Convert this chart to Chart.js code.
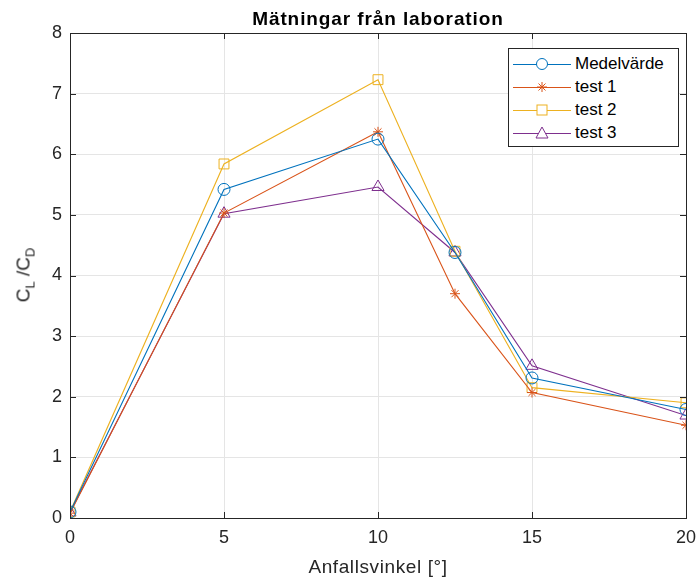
<!DOCTYPE html>
<html>
<head>
<meta charset="utf-8">
<script src="https://cdn.jsdelivr.net/npm/chart.js@4/dist/chart.umd.min.js"></script>
<style>
  body { margin:0; background:#fff; }
  #wrap { position:relative; width:697px; height:583px; font-family:"Liberation Sans", Arial, sans-serif; color:#262626; }
  #c { position:absolute; left:0; top:0; }
  #title { position:absolute; left:70px; width:616px; top:8px; line-height:normal; text-align:center; font-weight:bold; font-size:19px; letter-spacing:0.9px; color:#000; white-space:nowrap; }
  #xtitle { position:absolute; left:70px; width:616px; top:556px; line-height:normal; text-align:center; font-size:19px; letter-spacing:0.6px; color:#262626; white-space:nowrap; }
  #ytitle { position:absolute; left:25px; top:275px; transform:translate(-50%,-50%) rotate(-90deg); font-size:19px; white-space:nowrap; color:#262626; }
  #ytitle sub { font-size:13px; vertical-align:-5px; }
  #legend { position:absolute; left:508px; top:48px; width:171px; height:99px; border:1px solid #262626; background:#fff; box-sizing:border-box; }
  .row { position:absolute; left:4px; height:20px; display:flex; align-items:center; font-size:17px; color:#000; }
  .row svg { margin-right:4px; }
</style>
</head>
<body>
<div id="wrap">
  <canvas id="c" width="697" height="583"></canvas>
  <div id="title">Mätningar från laboration</div>
  <div id="xtitle">Anfallsvinkel [°]</div>
  <div id="ytitle">C<sub>L</sub> /C<sub>D</sub></div>
  <div id="legend"></div>
</div>
<script>
const angles = [0, 5, 10, 12.5, 15, 20];
const medelvarde = [0.10, 5.42, 6.25, 4.38, 2.31, 1.79];
const test1 = [0.08, 5.03, 6.37, 3.70, 2.07, 1.53];
const test2 = [0.10, 5.84, 7.23, 4.40, 2.15, 1.90];
const test3 = [0.09, 5.02, 5.46, 4.38, 2.51, 1.69];
const xTicks = [0, 5, 10, 15, 20];
const yTicks = [0, 1, 2, 3, 4, 5, 6, 7, 8];
const seriesNames = ['Medelvärde', 'test 1', 'test 2', 'test 3'];
const seriesColors = ['#0072BD', '#D95319', '#EDB120', '#7E2F8E'];
const seriesMarkers = ['circle', 'star', 'rect', 'triangle'];
const markerRadius = [6, 5, 7, 7];
const seriesData = [medelvarde, test1, test2, test3];

const datasets = seriesData.map((vals, i) => ({
  label: seriesNames[i],
  data: angles.map((a, j) => ({x: a, y: vals[j]})),
  borderColor: seriesColors[i],
  backgroundColor: 'rgba(0,0,0,0)',
  borderWidth: 1.1,
  pointStyle: seriesMarkers[i],
  pointRadius: markerRadius[i],
  pointBorderWidth: 1,
  pointBorderColor: seriesColors[i],
  pointBackgroundColor: 'rgba(0,0,0,0)',
  tension: 0,
  fill: false
}));

const boxPlugin = {
  id: 'box',
  afterDraw(chart) {
    const {ctx, chartArea: a, scales} = chart;
    ctx.save();
    ctx.strokeStyle = '#262626';
    ctx.lineWidth = 1;
    ctx.strokeRect(Math.round(a.left) + 0.5, Math.round(a.top) + 0.5, Math.round(a.right - a.left), Math.round(a.bottom - a.top));
    ctx.beginPath();
    const tl = 6;
    xTicks.forEach(v => {
      const px = Math.round(scales.x.getPixelForValue(v)) + 0.5;
      ctx.moveTo(px, a.bottom); ctx.lineTo(px, a.bottom - tl);
      ctx.moveTo(px, a.top); ctx.lineTo(px, a.top + tl);
    });
    yTicks.forEach(v => {
      const py = Math.round(scales.y.getPixelForValue(v)) + 0.5;
      ctx.moveTo(a.left, py); ctx.lineTo(a.left + tl, py);
      ctx.moveTo(a.right, py); ctx.lineTo(a.right - tl, py);
    });
    ctx.stroke();
    ctx.restore();
  }
};

new Chart(document.getElementById('c'), {
  type: 'line',
  data: { datasets },
  options: {
    responsive: false,
    animation: false,
    layout: { padding: { left: 0, right: 0, top: 33, bottom: 0 } },
    plugins: { legend: { display: false }, title: { display: false }, tooltip: { enabled: false } },
    scales: {
      x: {
        type: 'linear', min: 0, max: 20,
        afterBuildTicks(s) { s.ticks = xTicks.map(v => ({value: v})); },
        afterFit(s) { s.height = 65; s.paddingRight = 11; s.paddingLeft = 0; },
        grid: { color: '#e5e5e5', drawTicks: false },
        border: { display: false },
        ticks: { padding: 9, color: '#262626', font: { family: 'Liberation Sans', size: 18 }, maxRotation: 0 }
      },
      y: {
        type: 'linear', min: 0, max: 8,
        afterBuildTicks(s) { s.ticks = yTicks.map(v => ({value: v})); },
        afterFit(s) { s.width = 70; },
        grid: { color: '#e5e5e5', drawTicks: false },
        border: { display: false },
        ticks: { padding: 8, color: '#262626', font: { family: 'Liberation Sans', size: 18 } }
      }
    }
  },
  plugins: [boxPlugin]
});

// HTML legend
const legend = document.getElementById('legend');
const rowTops = [5, 28, 51, 74];
function markerSvg(kind, color) {
  const cx = 29, cy = 10;
  let m = '';
  if (kind === 'circle') m = `<circle cx="${cx}" cy="${cy}" r="5.5" fill="white" stroke="${color}"/>`;
  if (kind === 'star') m = `<path d="M${cx-5} ${cy}H${cx+5}M${cx} ${cy-5}V${cy+5}M${cx-3.5} ${cy-3.5}L${cx+3.5} ${cy+3.5}M${cx-3.5} ${cy+3.5}L${cx+3.5} ${cy-3.5}" stroke="${color}"/>`;
  if (kind === 'rect') m = `<rect x="${cx-5}" y="${cy-5}" width="10" height="10" fill="white" stroke="${color}"/>`;
  if (kind === 'triangle') m = `<path d="M${cx} ${cy-6}L${cx+6} ${cy+5}L${cx-6} ${cy+5}Z" fill="white" stroke="${color}"/>`;
  return `<svg width="58" height="20"><line x1="0" y1="10.5" x2="58" y2="10.5" stroke="${color}" stroke-width="1"/>${m}</svg>`;
}
seriesNames.forEach((n, i) => {
  const r = document.createElement('div');
  r.className = 'row';
  r.style.top = rowTops[i] + 'px';
  r.innerHTML = markerSvg(seriesMarkers[i], seriesColors[i]) + '<span>' + n + '</span>';
  legend.appendChild(r);
});
</script>
</body>
</html>
